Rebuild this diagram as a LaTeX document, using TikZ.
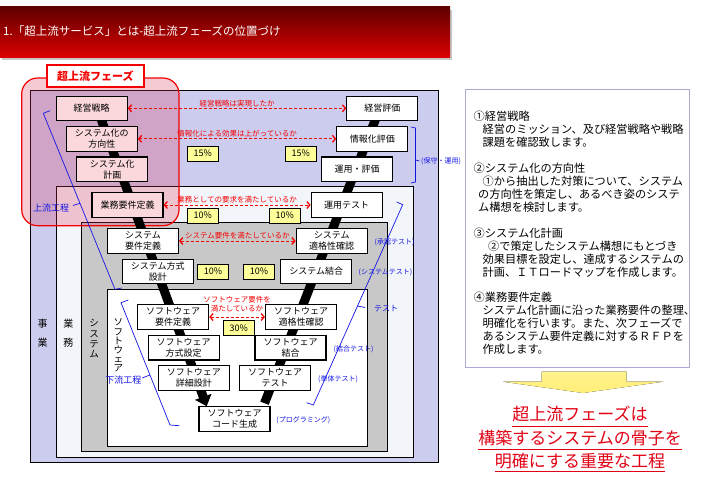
\documentclass[tikz,border=0pt]{standalone}
\usepackage{fontspec}
\setmainfont{Noto Sans CJK JP}
\usetikzlibrary{arrows.meta}
\pgfdeclarelayer{back}
\pgfdeclarelayer{mid}
\pgfsetlayers{back,mid,main}
\definecolor{jigyo}{RGB}{204,204,238}
\definecolor{gyomu}{RGB}{242,246,250}
\definecolor{sysgray}{RGB}{200,200,200}
\definecolor{upfill}{RGB}{250,216,220}
\definecolor{upveil}{RGB}{220,50,85}
\definecolor{pctfill}{RGB}{255,255,153}
\definecolor{noteblue}{RGB}{20,20,230}
\definecolor{notered}{RGB}{245,0,0}
\definecolor{panelline}{RGB}{170,170,215}
\definecolor{titletop}{RGB}{95,0,0}
\definecolor{titlebot}{RGB}{220,0,0}
\definecolor{conclred}{RGB}{225,0,20}
\tikzset{
  proc/.style={draw,line width=1.1pt,fill=white,minimum width=71pt,minimum height=24.5pt,
    inner sep=0pt,align=center,font=\fontsize{9}{11}\selectfont},
  upproc/.style={proc,fill=upfill},
  pct/.style={draw,line width=0.8pt,fill=pctfill,minimum width=31pt,minimum height=15pt,
    inner sep=0pt,font=\fontsize{9}{10}\selectfont},
  check/.style={draw=notered,line width=1pt,dash pattern=on 3pt off 2pt,
    {Straight Barb[length=3pt,width=7pt,line width=1.3pt]}-{Straight Barb[length=3pt,width=7pt,line width=1.3pt]}},
  checklbl/.style={text=notered,font=\fontsize{7.5}{9}\selectfont,inner sep=1pt,align=center},
  band/.style={line width=9pt,black},
  brk/.style={draw=noteblue,line width=0.7pt},
  brklbl/.style={text=noteblue,font=\fontsize{7}{8}\selectfont,inner sep=0pt},
  vlbl/.style={align=center,inner sep=0pt},
  area/.style={draw,line width=0.8pt},
  note/.style={anchor=north west,align=left,inner sep=0pt,font=\fontsize{11.2}{12.95}\selectfont},
  concl/.style={anchor=base,text=conclred,font=\fontsize{17}{20}\selectfont,inner sep=0pt},
  underl/.style={draw=conclred,line width=1.5pt}
}
\begin{document}
\begin{tikzpicture}[x=1pt,y=-1pt]
\useasboundingbox (0,0) rectangle (720,501);
\fill[black!22] (2,9.5) rectangle (452,60);
\fill[top color=titletop,bottom color=titlebot] (0,6.7) rectangle (450,57.3);
\node[anchor=west,text=white,font=\fontsize{11.5}{13}\selectfont,inner sep=0pt] (title) at (3,31)
  {1.「超上流サービス」とは-超上流フェーズの位置づけ};
\begin{pgfonlayer}{back}
  \draw[area,fill=jigyo] (30.7,90) rectangle (438.7,462.7);
  \draw[area,fill=gyomu] (56,186.7) rectangle (413,457.3);
  \draw[area,fill=sysgray] (81.7,222.7) rectangle (387.7,451.7);
  \draw[area,fill=white] (107,289) rectangle (367,446);
  \fill[upveil,fill opacity=0.26,rounded corners=16pt] (21.7,78) rectangle (179,225.7);
  \draw[notered,line width=1.2pt,rounded corners=16pt] (21.7,78) rectangle (179,225.7);
\end{pgfonlayer}
\node[draw=notered,line width=1.5pt,fill=white,minimum width=97pt,minimum height=22pt,inner sep=0pt,
  text=notered,font=\fontsize{11}{12}\selectfont\bfseries] (phase) at (95.3,76) {超上流フェーズ};
\node[vlbl,font=\fontsize{10}{19.4}\selectfont] (jigyolbl) at (42.7,333) {事\\業};
\node[vlbl,font=\fontsize{10}{19.4}\selectfont] (gyomulbl) at (68.3,333) {業\\務};
\node[vlbl,font=\fontsize{9.5}{10.3}\selectfont] (syslbl) at (94,338.7) {シ\\ス\\テ\\ム};
\node[vlbl,font=\fontsize{9.5}{9.2}\selectfont] (swlbl) at (118.3,345.5) {ソ\\フ\\ト\\ウ\\ェ\\ア};
\node[upproc] (senryaku) at (91.7,108.3) {経営戦略};
\node[upproc] (houkou) at (101.8,138.8) {システム化の\\方向性};
\node[upproc] (keikaku) at (112.3,169.2) {システム化\\計画};
\node[upproc] (gyoreq) at (127.5,205) {業務要件定義};
\node[proc] (sysreq) at (143,241) {システム\\要件定義};
\node[proc] (sysarch) at (157.8,271.3) {システム方式\\設計};
\node[proc] (swreq) at (173.2,317) {ソフトウェア\\要件定義};
\node[proc] (swarch) at (183.7,347.7) {ソフトウェア\\方式設定};
\node[proc] (swdet) at (193.8,378) {ソフトウェア\\詳細設計};
\node[proc] (swcode) at (234.5,419) {ソフトウェア\\コード生成};
\node[proc] (swtest) at (275,378) {ソフトウェア\\テスト};
\node[proc] (swint) at (290.5,347.7) {ソフトウェア\\結合};
\node[proc] (swqual) at (301,317) {ソフトウェア\\適格性確認};
\node[proc] (sysint) at (316.3,271.3) {システム結合};
\node[proc] (sysqual) at (331.7,241) {システム\\適格性確認};
\node[proc] (optest) at (346.7,205) {運用テスト};
\node[proc] (opeval) at (357.2,169.2) {運用・評価};
\node[proc] (infoeval) at (372.3,138.8) {情報化評価};
\node[proc] (mgmteval) at (382.3,108.3) {経営評価};
\begin{pgfonlayer}{mid}
  \draw[band,-{Triangle[length=10pt,width=17pt]}] ([xshift=5.4pt]senryaku.center) -- ([xshift=-27.8pt]swcode.north);
  \draw[band] ([xshift=30pt,yshift=3pt]swcode.north) -- ([xshift=-2.5pt]mgmteval.center);
\end{pgfonlayer}
\draw[check] (senryaku) -- node[checklbl,above] {経営戦略は実現したか} (mgmteval);
\draw[check] (houkou) -- node[checklbl,above] {情報化による効果は上がっているか} (infoeval);
\draw[check] (gyoreq) -- node[checklbl,above] {業務としての要求を満たしているか} (optest);
\draw[check] (sysreq) -- node[checklbl,above] {システム要件を満たしているか} (sysqual);
\draw[check] (swreq) -- node[checklbl,above=3pt] {ソフトウェア要件を\\満たしているか} (swqual);
\node[pct] (p1) at (202.8,153.5) {15\%};
\node[pct] (p2) at (300.7,153.5) {15\%};
\node[pct] (p3) at (202.8,215.5) {10\%};
\node[pct] (p4) at (284.8,215.5) {10\%};
\node[pct] (p5) at (213,271.5) {10\%};
\node[pct] (p6) at (259,271.5) {10\%};
\node[pct] (p7) at (238.7,328) {30\%};
\draw[brk] (50,110.7) -- (43.3,113.3) -- (115,289.3) -- (121.7,288) (79.9,203.3) -- (73,205.5);
\node[brklbl,font=\fontsize{9}{10}\selectfont] (upstream) at (51,208) {上流工程};
\draw[brk] (128.3,300) -- (121,302.7) -- (170,425) -- (179.3,425.7) (149.9,375) -- (142,378);
\node[brklbl,font=\fontsize{9}{10}\selectfont] (downstream) at (123.3,380) {下流工程};
\draw[brk] (396.7,202) -- (402.7,204.7) -- (313.3,405) -- (306.7,402.7) (357.5,306) -- (365,307.5);
\node[brklbl,font=\fontsize{8}{9}\selectfont] (testlbl) at (386,309) {テスト};
\draw[brk] (411,127) -- (415.5,128) -- (415.5,182) -- (411,183) (415.5,160) -- (419.5,161);
\node[brklbl] (hoshu) at (441,161) {(保守・運用)};
\node[brklbl] (shonin) at (394.5,242.3) {(承認テスト)};
\node[brklbl] (systest) at (385.5,272.7) {(システムテスト)};
\node[brklbl] (ketsugo) at (353.5,349.3) {(結合テスト)};
\node[brklbl] (tantai) at (338,379.3) {(単体テスト)};
\node[brklbl] (prog) at (303.3,420) {(プログラミング)};
\draw[panelline,line width=0.8pt,fill=white] (465,89) rectangle (689.5,367);
\node[note] (notes) at (473.5,111) {①経営戦略\\
  \hspace*{9pt}経営のミッション、及び経営戦略や戦略\\
  \hspace*{9pt}課題を確認致します。\\[12.95pt]
  ②システム化の方向性\\
  \hspace*{9pt}①から抽出した対策について、システム\\
  \hspace*{4.5pt}の方向性を策定し、あるべき姿のシステ\\
  \hspace*{4.5pt}ム構想を検討します。\\[12.95pt]
  ③システム化計画\\
  \hspace*{14.5pt}②で策定したシステム構想にもとづき\\
  \hspace*{9pt}効果目標を設定し、達成するシステムの\\
  \hspace*{9pt}計画、ＩＴロードマップを作成します。\\[12.95pt]
  ④業務要件定義\\
  \hspace*{9pt}システム化計画に沿った業務要件の整理、\\
  \hspace*{9pt}明確化を行います。また、次フェーズで\\
  \hspace*{9pt}あるシステム要件定義に対するＲＦＰを\\
  \hspace*{9pt}作成します。};
\fill[top color={rgb,255:red,255;green,242;blue,140},middle color={rgb,255:red,255;green,222;blue,20},
  bottom color={rgb,255:red,255;green,238;blue,120}]
  (541.7,371.7) -- (626.7,371.7) -- (626.7,381.7) -- (663,381.7) -- (583,393)
  -- (503,381.7) -- (541.7,381.7) -- cycle;
\node[concl] (concl1) at (580,420.5) {超上流フェーズは};
\node[concl] (concl2) at (580,444.5) {構築するシステムの骨子を};
\node[concl] (concl3) at (580,467.5) {明確にする重要な工程};
\draw[underl] (512,426.5) -- (648,426.5);
\draw[underl] (478,449.5) -- (682,449.5);
\draw[underl] (495,471.7) -- (665,471.7);
\end{tikzpicture}
\end{document}
